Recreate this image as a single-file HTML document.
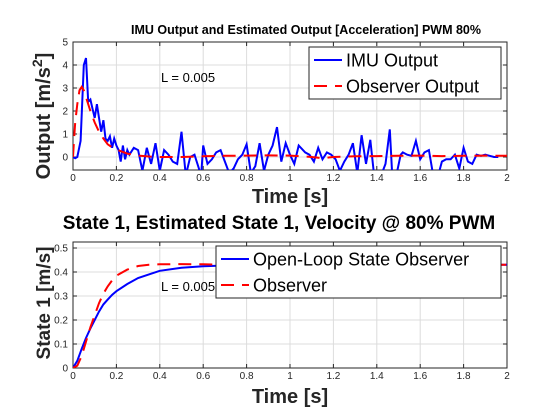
<!DOCTYPE html>
<html><head><meta charset="utf-8"><style>
body{margin:0;background:#fff;}
svg{display:block;font-family:"Liberation Sans",sans-serif;}
</style></head><body>
<svg id="c" width="560" height="420">
<defs>
<clipPath id="cp1"><rect x="73" y="42" width="434" height="128"/></clipPath>
<clipPath id="cp2"><rect x="73" y="242" width="434" height="126"/></clipPath>
</defs>
</svg>
<script>
const imuT=[0,0.01,0.02,0.035,0.05,0.06,0.07,0.08,0.09,0.1,0.11,0.12,0.13,0.14,0.15,0.16,0.17,0.18,0.19,0.2,0.21,0.22,0.23,0.24,0.25,0.26,0.28,0.3,0.32,0.34,0.36,0.38,0.4,0.42,0.44,0.46,0.48,0.5,0.52,0.54,0.56,0.58,0.59,0.6,0.62,0.64,0.66,0.68,0.7,0.72,0.74,0.76,0.78,0.8,0.82,0.84,0.86,0.88,0.9,0.92,0.94,0.96,0.98,1.0,1.02,1.04,1.07,1.09,1.11,1.13,1.15,1.17,1.19,1.21,1.23,1.25,1.27,1.29,1.31,1.33,1.35,1.37,1.39,1.42,1.44,1.46,1.47,1.49,1.51,1.52,1.54,1.56,1.58,1.6,1.62,1.64,1.66,1.68,1.7,1.72,1.74,1.76,1.78,1.8,1.82,1.84,1.86,1.88,1.9,1.92,1.94,1.96,1.98,2.0];
const imuV=[0,-0.05,0,0.7,4,4.3,2.4,2.5,2.1,1.7,2.3,1.7,1.1,1.6,0.8,0.7,0.9,0.4,0.8,0.5,0.3,-0.2,0.5,-0.1,0.3,0.1,0.4,0.3,-0.6,0.4,-0.3,0.6,-0.6,0.3,0.1,-0.2,-0.3,1.1,-0.8,0,0.1,-0.5,-0.9,0.5,-0.3,-0.1,0.2,0.3,-0.2,-0.7,-0.5,-0.1,0.1,0.55,-0.7,-0.4,0.6,-0.6,0.1,0.5,1.3,-0.2,0.6,0.1,-0.3,0.5,0.2,0.1,-0.2,0.4,-0.1,0.2,0.1,-0.1,-0.6,-0.2,0.1,0.6,-0.7,0.95,-0.3,0.75,-1,-0.8,-0.3,1.2,-0.6,-0.8,0.1,0.2,0.1,0.05,0.7,-0.1,0.2,0.3,-0.8,-0.9,-0.2,-0.1,-0.1,0.1,-0.5,0.4,-0.2,-0.3,0.1,0.05,0.1,0.05,0.0,0.0];
const obsT=[0,0.005,0.01,0.02,0.03,0.04,0.05,0.06,0.08,0.1,0.12,0.14,0.16,0.18,0.2,0.25,0.3,0.35,0.4,0.5,0.6,0.7,0.8,0.9,1.0,1.1,1.15,1.2,1.3,1.4,1.5,1.6,1.7,1.8,1.9,2.0];
const obsV=[0,0.8,1.5,2.3,2.9,3.05,2.9,2.6,2.0,1.5,1.1,0.8,0.55,0.42,0.32,0.15,0.06,0.02,0.0,0.0,0.03,0.05,0.06,0.07,0.06,0.0,-0.05,0.0,0.03,0.04,0.05,0.06,0.04,0.05,0.06,0.05];
const velT=[0,0.02,0.04,0.06,0.08,0.1,0.12,0.14,0.16,0.18,0.2,0.25,0.3,0.35,0.4,0.5,0.6,0.7,0.8,1.0,1.5,2.0];
const velV=[0,0.03,0.08,0.125,0.165,0.2,0.235,0.265,0.285,0.305,0.32,0.35,0.375,0.39,0.405,0.418,0.424,0.427,0.428,0.429,0.43,0.43];
const estT=[0,0.02,0.04,0.06,0.08,0.1,0.12,0.14,0.16,0.18,0.2,0.25,0.3,0.35,0.4,0.5,0.6,0.7,1.0,1.5,2.0];
const estV=[0,0.01,0.05,0.11,0.17,0.22,0.27,0.31,0.34,0.365,0.385,0.41,0.425,0.43,0.432,0.433,0.432,0.43,0.43,0.43,0.43];
const xTicks=[0,0.2,0.4,0.6,0.8,1,1.2,1.4,1.6,1.8,2];
const y1Ticks=[0,1,2,3,4,5];
const y2Ticks=[0,0.1,0.2,0.3,0.4,0.5];
const NS="http://www.w3.org/2000/svg";
const svg=document.getElementById('c');
const X0=73,X1=507;
const sx=t=>X0+(t/2)*(X1-X0);
const sy1=v=>157-v*23;
const sy2=v=>368-v*(368-248)/0.5;
function el(tag,attrs,parent){const e=document.createElementNS(NS,tag);for(const k in attrs)e.setAttribute(k,attrs[k]);(parent||svg).appendChild(e);return e;}
function txt(x,y,s,attrs){const e=el('text',Object.assign({x:x,y:y},attrs));e.textContent=s;return e;}
function axes(top,bot,ticks,sy,fmt,name){
  const g=el('g',{});
  
  
  xTicks.forEach(t=>{el('line',{x1:sx(t),x2:sx(t),y1:top,y2:bot,stroke:'#dcdcdc','stroke-width':1},g);
    const l=txt(sx(t),bot+11,fmt(t),{'font-size':10,'text-anchor':'middle',fill:'#262626'});
    
    el('line',{x1:sx(t),x2:sx(t),y1:bot,y2:bot-4,stroke:'#262626'},g);el('line',{x1:sx(t),x2:sx(t),y1:top,y2:top+4,stroke:'#262626'},g);});
  ticks.forEach(v=>{const y=sy(v);el('line',{x1:X0,x2:X1,y1:y,y2:y,stroke:'#dcdcdc'},g);
    const l=txt(X0-5,y+3.5,String(v),{'font-size':10,'text-anchor':'end',fill:'#262626'});
    
    el('line',{x1:X0,x2:X0+4,y1:y,y2:y,stroke:'#262626'},g);el('line',{x1:X1,x2:X1-4,y1:y,y2:y,stroke:'#262626'},g);});
  el('rect',{x:X0,y:top,width:X1-X0,height:bot-top,fill:'none',stroke:'#262626','stroke-width':1},g);
}
function line(T,V,sy,color,dash,clip,name){
  const p=T.map((t,i)=>(i?'L':'M')+sx(t).toFixed(1)+','+sy(V[i]).toFixed(1)).join('');
  const e=el('path',{d:p,fill:'none',stroke:color,'stroke-width':2,'clip-path':'url(#'+clip+')'});
  if(dash)e.setAttribute('stroke-dasharray',dash);
  
}
const fmt=t=>String(t);
axes(42,170,y1Ticks,sy1,fmt,'top-axes');
axes(242,368,y2Ticks,sy2,fmt,'bottom-axes');
line(imuT,imuV,sy1,'#0000ff',null,'cp1','imu-output-line');
line(obsT,obsV,sy1,'#ff0000','13 8','cp1','observer-output-line');
line(velT,velV,sy2,'#0000ff',null,'cp2','open-loop-observer-line');
line(estT,estV,sy2,'#ff0000','13 8','cp2','observer-line');
let t;
t=txt(306,34,'IMU Output and Estimated Output [Acceleration] PWM 80%',{'font-size':12.5,'font-weight':'bold','text-anchor':'middle',fill:'#000'});

t=txt(279,229,'State 1, Estimated State 1, Velocity @ 80% PWM',{'font-size':19,'font-weight':'bold','text-anchor':'middle',fill:'#000'});

t=txt(290,203,'Time [s]',{'font-size':20,'font-weight':'bold','text-anchor':'middle',fill:'#262626'});

t=txt(290,403,'Time [s]',{'font-size':20,'font-weight':'bold','text-anchor':'middle',fill:'#262626'});

t=el('text',{x:0,y:0,transform:'translate(50,116) rotate(-90)','font-size':20,'font-weight':'bold','text-anchor':'middle',fill:'#262626'});
t.innerHTML='Output [m/s<tspan dy="-8" font-size="14">2</tspan><tspan dy="8">]</tspan>';

t=txt(0,0,'State 1 [m/s]',{transform:'translate(50,303) rotate(-90)','font-size':19,'font-weight':'bold','text-anchor':'middle',fill:'#262626'});

t=txt(161,82,'L = 0.005',{'font-size':13,fill:'#000'});

t=txt(161,291,'L = 0.005',{'font-size':13,fill:'#000'});

function legend(x,y,w,h,items,name){
  const g=el('g',{});
  
  el('rect',{x:x,y:y,width:w,height:h,fill:'#fff',stroke:'#262626'},g);
  items.forEach((it,i)=>{const cy=y+h/4+i*h/2;
    const l=el('line',{x1:x+5,x2:x+33,y1:cy,y2:cy,stroke:it[1],'stroke-width':2},g);
    if(it[2])l.setAttribute('stroke-dasharray','13 8');
    const tt=el('text',{x:x+37,y:cy+6.5,'font-size':18,fill:'#000'},g);tt.textContent=it[0];
    });
}
legend(309,47,192,52,[['IMU Output','#0000ff',false],['Observer Output','#ff0000',true]],'top-legend');
legend(216,246,285,52,[['Open-Loop State Observer','#0000ff',false],['Observer','#ff0000',true]],'bottom-legend');
</script>
</body></html>
